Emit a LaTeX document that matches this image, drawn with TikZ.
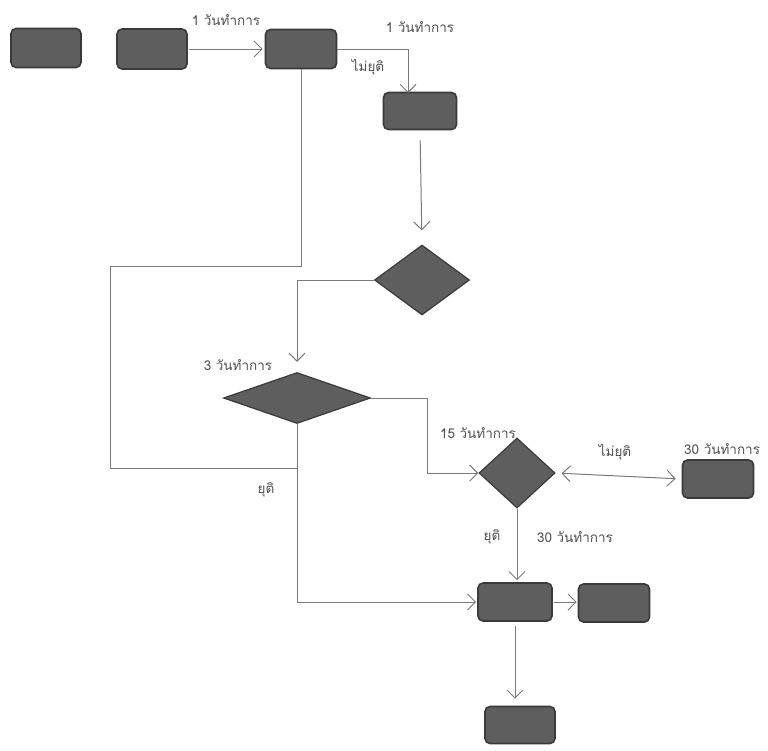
\documentclass[tikz,border=0pt]{standalone}
\usepackage{fontspec}
\newfontfamily\thaifont[Script=Thai]{Loma}
\usetikzlibrary{shapes.geometric,arrows.meta}
\definecolor{boxfill}{HTML}{5E5E5E}
\definecolor{boxline}{HTML}{3A3A3A}
\definecolor{conn}{HTML}{7A7A7A}
\definecolor{txt}{HTML}{505050}
\tikzset{
  stepbox/.style={draw=boxline, fill=boxfill, line width=1.6pt, rounded corners=5pt, inner sep=0pt},
  decision/.style={diamond, draw=boxline, fill=boxfill, line width=1.2pt, inner sep=0pt},
  conline/.style={draw=conn, line width=1pt},
  arr/.style={conline, -{Straight Barb[length=8pt,width=16pt]}},
  darr/.style={conline, {Straight Barb[length=8pt,width=16pt]}-{Straight Barb[length=8pt,width=16pt]}},
  lbl/.style={font=\thaifont\fontsize{13.5}{15}\selectfont, text=txt, inner sep=0pt}
}
\begin{document}
\begin{tikzpicture}[x=1pt,y=-1pt]
\useasboundingbox (0,0) rectangle (768,750);
% boxes
\node[stepbox, minimum width=70pt, minimum height=39pt] (b1) at (46,48) {};
\node[stepbox, minimum width=70pt, minimum height=40pt] (b2) at (152,49) {};
\node[stepbox, minimum width=71pt, minimum height=39pt] (b3) at (301,49) {};
\node[stepbox, minimum width=73pt, minimum height=37pt] (b4) at (420,111) {};
\node[decision, minimum width=95pt, minimum height=70pt] (d1) at (422,280) {};
\node[decision, minimum width=147pt, minimum height=51pt] (d2) at (297,398) {};
\node[decision, minimum width=76pt, minimum height=70pt] (d3) at (517,473) {};
\node[stepbox, minimum width=71pt, minimum height=38pt] (r) at (718,479) {};
\node[stepbox, minimum width=74pt, minimum height=38pt] (b5) at (515,602) {};
\node[stepbox, minimum width=71pt, minimum height=38pt] (b6) at (614,603) {};
\node[stepbox, minimum width=70pt, minimum height=37pt] (b7) at (520,725) {};
% helper coordinates
\coordinate (c1) at (110,266);
\coordinate (c2) at (110,468);
\coordinate (j) at (297,468);
\coordinate (k) at (427,473);
\coordinate (t) at (408,93);
% connectors
\draw[arr, shorten <=1pt, shorten >=2pt] (b2.east) -- (b3.west);
\draw[arr] (b3.east) -| (t);
\draw[conline] (b3.south) |- (c1) -- (c2) -- (j);
\draw[arr, shorten <=10pt, shorten >=14pt] (b4.south) -- (d1.north);
\draw[arr, shorten >=10pt] (d1.west) -| (d2.north);
\draw[arr] (d2.east) -| (k) -- (d3.west);
\draw[arr, shorten >=1pt] (d2.south) |- (b5.west);
\draw[darr, shorten <=6pt, shorten >=6pt] (d3.east) -- (r.west);
\draw[arr, shorten >=2pt] (d3.south) -- (d3.south |- b5.north);
\draw[arr, shorten <=1pt, shorten >=1pt] (b5.east) -- (b5.east -| b6.west);
\draw[arr, shorten <=4pt, shorten >=7pt] (b5.south) -- (b5.south |- b7.north);
% labels
\node[lbl] (l1) at (226,20) {1 วันทำการ};
\node[lbl] (l2) at (420,27) {1 วันทำการ};
\node[lbl] (l3) at (368,67) {ไม่ยุติ};
\node[lbl] (l4) at (238,365) {3 วันทำการ};
\node[lbl] (l5) at (478,433) {15 วันทำการ};
\node[lbl] (l6) at (615,452) {ไม่ยุติ};
\node[lbl, anchor=west] (l7) at (684,449) {30 วันทำการ};
\node[lbl] (l8) at (266,490) {ยุติ};
\node[lbl] (l9) at (492,537) {ยุติ};
\node[lbl] (l10) at (575,537) {30 วันทำการ};
\end{tikzpicture}
\end{document}
